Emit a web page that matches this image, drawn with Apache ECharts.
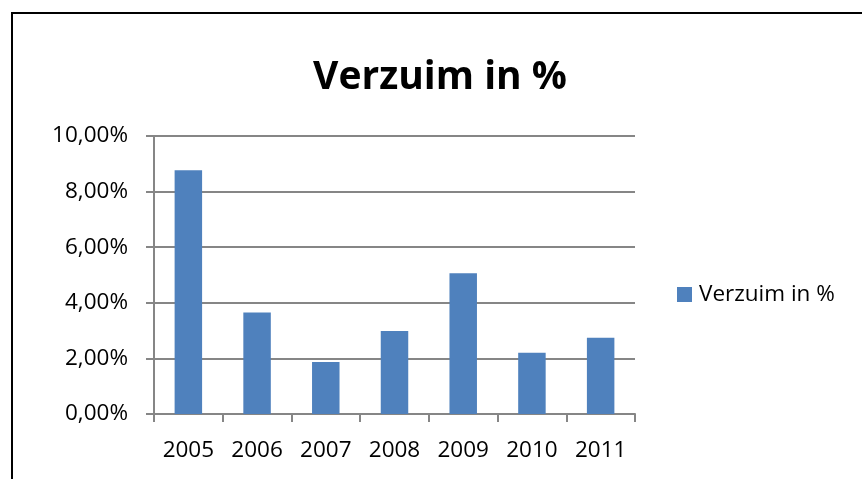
<!DOCTYPE html>
<html>
<head>
<meta charset="utf-8">
<script src="https://cdn.jsdelivr.net/npm/echarts@6/dist/echarts.min.js"></script>
<style>
	html, body { margin: 0; padding: 0; background: #fff; }
	#chart { width: 862px; height: 479px; }
</style>
</head>
<body>
<div id="chart"></div>
<script>
const years = ['2005', '2006', '2007', '2008', '2009', '2010', '2011'];
const verzuim = [8.77, 3.65, 1.87, 2.99, 5.06, 2.20, 2.74];
const seriesName = 'Verzuim in %';

var chart = echarts.init(document.getElementById('chart'));

const fontFam = '"Open Sans", "Noto Sans", sans-serif';

var option = {
	animation: false,
	textStyle: {
		fontFamily: fontFam
	},
	title: {
		text: 'Verzuim in %',
		left: 435,
		top: 53,
		textAlign: 'center',
		textStyle: {
			fontFamily: fontFam,
			fontWeight: 'bold',
			fontSize: 39,
			color: '#000'
		}
	},
	graphic: [
		{
			type: 'rect',
			shape: { x: 12, y: 13, width: 900, height: 520 },
			style: { fill: 'none', stroke: '#000', lineWidth: 2 },
			silent: true
		}
	],
	legend: {
		orient: 'vertical',
		left: 672,
		top: 278,
		itemWidth: 15,
		itemHeight: 15,
		itemGap: 6,
		icon: 'rect',
		textStyle: {
			fontFamily: fontFam,
			fontSize: 22.5,
			color: '#000',
			padding: [0, 0, 0, 2]
		},
		data: [seriesName]
	},
	grid: {
		left: 154,
		right: 227,
		top: 136,
		bottom: 65
	},
	xAxis: {
		type: 'category',
		data: years,
		axisLine: { lineStyle: { color: '#868686', width: 2 } },
		axisTick: { show: true, length: 8, lineStyle: { color: '#868686', width: 2 } },
		axisLabel: {
			margin: 25,
			fontSize: 22.5,
			color: '#000',
			fontFamily: fontFam
		}
	},
	yAxis: {
		type: 'value',
		min: 0,
		max: 10,
		interval: 2,
		axisLine: { show: true, lineStyle: { color: '#868686', width: 2 } },
		axisTick: { show: true, length: 8, lineStyle: { color: '#868686', width: 2 } },
		splitLine: { lineStyle: { color: '#868686', width: 2 } },
		axisLabel: {
			margin: 26,
			fontSize: 22.5,
			color: '#000',
			fontFamily: fontFam,
			formatter: function (v) {
				return v.toFixed(2).replace('.', ',') + '%';
			}
		}
	},
	series: [
		{
			name: seriesName,
			type: 'bar',
			data: verzuim,
			barWidth: '40%',
			itemStyle: { color: '#4F81BD' }
		}
	]
};

chart.setOption(option);
</script>
</body>
</html>
